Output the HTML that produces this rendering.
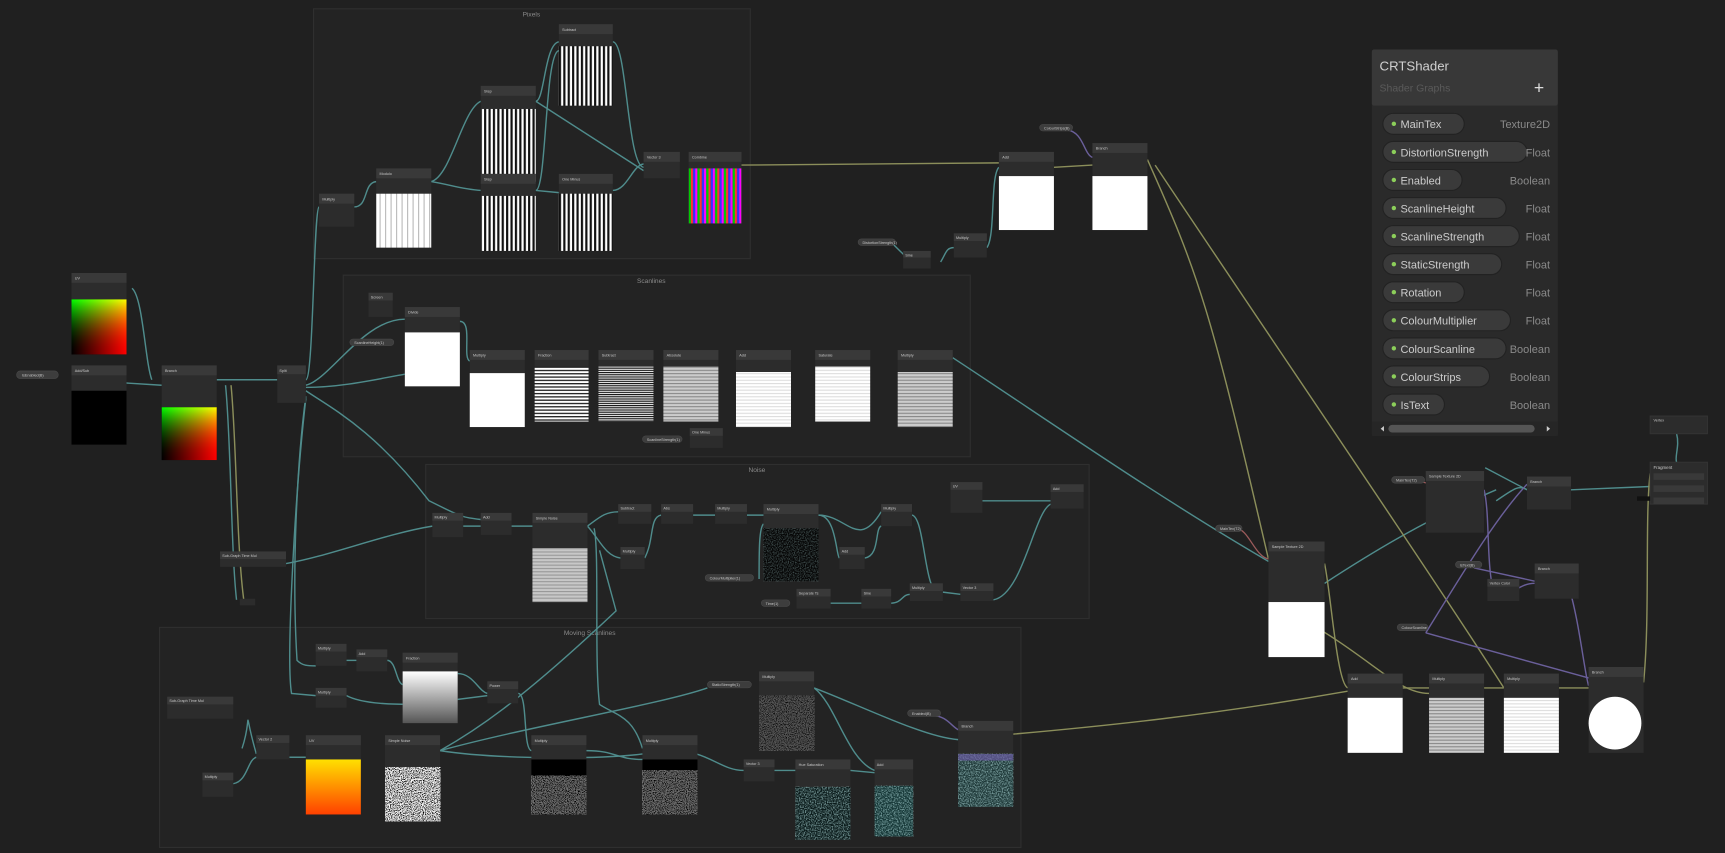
<!DOCTYPE html>
<html><head><meta charset="utf-8"><style>
html,body{margin:0;padding:0;background:#202020;overflow:hidden}
svg{display:block}
text{font-family:"Liberation Sans",sans-serif}
.h{fill:#393939}.b{fill:#2c2c2c}.t{fill:#c8c8c8;font-size:3.4px}
.e{fill:none;stroke:#4f8c8c;stroke-width:1.3}
.y{fill:none;stroke:#8b8e5a;stroke-width:1.3}
.p{fill:none;stroke:#6a5f9a;stroke-width:1.3}
.r{fill:none;stroke:#9a5a5a;stroke-width:1.2}
.pl{fill:#3d3d3d;stroke:#4a4a4a;stroke-width:.5}
.g{fill:#232323;stroke:#2f2f2f;stroke-width:1}
.gt{fill:#8a8a8a;font-size:6px}
</style></head><body>
<svg width="1725" height="853" viewBox="0 0 1568 775" preserveAspectRatio="none" xmlns="http://www.w3.org/2000/svg">
<defs>
<pattern id="vs" width="4" height="4" patternUnits="userSpaceOnUse"><rect width="4" height="4" fill="#fff"/><rect width="2" height="4" fill="#111"/></pattern>
<pattern id="vs2" width="5" height="4" patternUnits="userSpaceOnUse"><rect width="5" height="4" fill="#fff"/><rect width="1" height="4" fill="#bbb"/></pattern>
<pattern id="rb" width="8" height="4" patternUnits="userSpaceOnUse"><rect width="2" height="4" fill="#f0f"/><rect x="2" width="2" height="4" fill="#0c0"/><rect x="4" width="2" height="4" fill="#f33"/><rect x="6" width="2" height="4" fill="#33f"/></pattern>
<pattern id="hs" width="4" height="3" patternUnits="userSpaceOnUse"><rect width="4" height="3" fill="#fff"/><rect width="4" height="1.2" fill="#222"/></pattern>
<pattern id="hs2" width="4" height="2" patternUnits="userSpaceOnUse"><rect width="4" height="2" fill="#eee"/><rect width="4" height="1" fill="#111"/></pattern>
<pattern id="hs3" width="4" height="3" patternUnits="userSpaceOnUse"><rect width="4" height="3" fill="#fff"/><rect width="4" height="1" fill="#ddd"/></pattern>
<pattern id="hs4" width="4" height="3" patternUnits="userSpaceOnUse"><rect width="4" height="3" fill="#ccc"/><rect width="4" height="1" fill="#888"/></pattern>
<linearGradient id="gx" x1="0" y1="0" x2="1" y2="0"><stop offset="0" stop-color="#000"/><stop offset="1" stop-color="#f00"/></linearGradient>
<linearGradient id="gy" x1="0" y1="1" x2="0" y2="0"><stop offset="0" stop-color="#000" stop-opacity="0"/><stop offset="1" stop-color="#0f0"/></linearGradient>
<linearGradient id="yo" x1="0" y1="0" x2="0" y2="1"><stop offset="0" stop-color="#ffe000"/><stop offset="1" stop-color="#ff4000"/></linearGradient>
<linearGradient id="wg" x1="0" y1="0" x2="0" y2="1"><stop offset="0" stop-color="#fff"/><stop offset="1" stop-color="#555"/></linearGradient>
<filter id="nz" x="0" y="0" width="1" height="1"><feTurbulence type="fractalNoise" baseFrequency="0.9" numOctaves="1" seed="3"/><feColorMatrix type="matrix" values="0 0 0 0 .5  0 0 0 0 .8  0 0 0 0 .8  0 0 0 3 -1.2"/></filter>
<filter id="nzw" x="0" y="0" width="1" height="1"><feTurbulence type="fractalNoise" baseFrequency="1.2" seed="5"/><feColorMatrix type="matrix" values="4 0 0 0 -1.5  4 0 0 0 -1.5  4 0 0 0 -1.5  0 0 0 0 1"/></filter>
</defs>
<rect width="1568" height="775" fill="#202020"/>

<rect class="g" x="285" y="8" width="397" height="227"/><text class="gt" x="483" y="15" text-anchor="middle">Pixels</text>
<rect class="g" x="312" y="250" width="570" height="165"/><text class="gt" x="592" y="257" text-anchor="middle">Scanlines</text>
<rect class="g" x="387" y="422" width="603" height="140"/><text class="gt" x="688" y="429" text-anchor="middle">Noise</text>
<rect class="g" x="145" y="570" width="783" height="200"/><text class="gt" x="536" y="577" text-anchor="middle">Moving Scanlines</text>

<path class="e" d="M120 262 C130 270,132 330,138 345"/>
<path class="e" d="M115 348 L147 350"/>
<path class="e" d="M197 345 L252 345"/>
<path class="e" d="M278 345 C285 345,285 190,290 188"/>
<path class="e" d="M322 188 C335 188,330 166,342 165"/>
<path class="e" d="M392 165 C410 160,420 100,437 92"/>
<path class="e" d="M392 165 C410 168,420 172,437 173"/>
<path class="e" d="M487 92 C495 92,495 40,508 38"/>
<path class="e" d="M487 92 L585 155"/>
<path class="e" d="M487 173 C497 173,495 48,508 46"/>
<path class="e" d="M487 173 L508 175"/>
<path class="e" d="M557 38 C570 38,570 150,585 152"/>
<path class="e" d="M557 173 C570 173,575 150,585 149"/>
<path class="e" d="M278 350 C300 345,330 290,368 290"/>
<path class="e" d="M278 352 C310 352,340 345,368 340"/>
<path class="e" d="M418 292 C430 292,420 325,427 328"/>
<path class="e" d="M278 355 C300 370,340 390,390 455 C420 470,420 470,437 472"/>
<path class="e" d="M260 512 C300 505,350 485,393 478"/>
<path class="e" d="M421 478 L437 478"/>
<path class="e" d="M465 478 L484 478"/>
<path class="e" d="M534 478 C545 470,550 465,562 465"/>
<path class="e" d="M534 478 C545 490,550 505,564 507"/>
<path class="e" d="M586 507 C595 490,590 470,601 468"/>
<path class="e" d="M630 468 L650 468"/>
<path class="e" d="M679 468 L694 468"/>
<path class="e" d="M744 468 C770 468,780 500,801 465"/>
<path class="e" d="M744 468 C760 468,760 505,763 507"/>
<path class="e" d="M690 526 C690 500,690 480,694 476"/>
<path class="e" d="M786 507 C800 505,795 480,801 478"/>
<path class="e" d="M829 468 C840 470,840 530,851 538"/>
<path class="e" d="M857 538 L873 540"/>
<path class="e" d="M903 545 C930 540,940 465,955 458"/>
<path class="e" d="M893 455 L955 455"/>
<path class="e" d="M755 548 L783 548"/>
<path class="e" d="M810 548 C820 548,820 540,827 540"/>
<path class="e" d="M540 480 C545 500,540 600,545 640 C560 650,575 650,584 680"/>
<path class="e" d="M278 360 C270 420,265 520,270 600 C275 605,280 605,287 605"/>
<path class="e" d="M278 362 C268 450,260 600,265 630 L287 632"/>
<path class="e" d="M315 600 L324 600"/>
<path class="e" d="M352 600 C360 600,360 620,366 622"/>
<path class="e" d="M315 632 C330 640,360 640,380 640 L443 632"/>
<path class="e" d="M416 612 C430 612,435 628,443 630"/>
<path class="e" d="M471 630 C480 630,475 680,483 682"/>
<path class="e" d="M400 682 C430 665,470 640,560 555 L545 500"/>
<path class="e" d="M400 682 C480 660,600 640,643 625"/>
<path class="e" d="M400 682 C450 690,550 690,584 685"/>
<path class="e" d="M533 682 C560 682,560 690,584 690"/>
<path class="e" d="M633 685 C650 690,660 700,676 700"/>
<path class="e" d="M740 625 C780 640,840 670,871 672"/>
<path class="e" d="M740 625 C760 640,770 690,795 700"/>
<path class="e" d="M704 700 L723 700"/>
<path class="e" d="M773 700 L795 702"/>
<path class="e" d="M220 680 C230 650,220 640,233 685"/>
<path class="e" d="M212 712 C225 710,225 690,233 688"/>
<path class="e" d="M263 688 L278 688"/>
<path class="e" d="M205 350 C210 400,210 500,215 545"/>
<path class="e" d="M1204 530 C1250 500,1300 470,1360 445"/>
<path class="e" d="M1428 445 L1500 442"/>
<path class="e" d="M812 222 C820 230,825 235,830 238"/>
<path class="e" d="M855 238 C860 230,860 225,867 225"/>
<path class="e" d="M897 225 C905 215,900 160,908 152"/>
<path class="e" d="M866 325 C950 380,1050 450,1153 510"/>
<path class="e" d="M1350 425 L1388 445"/>
<path class="e" d="M1360 455 C1375 445,1380 440,1388 445"/>
<path class="y" d="M674 150 L908 148"/>
<path class="y" d="M958 152 L993 150"/>
<path class="y" d="M1043 145 C1090 250,1100 280,1153 508"/>
<path class="y" d="M1050 150 C1150 300,1300 520,1367 625"/>
<path class="y" d="M921 667 C1000 660,1100 650,1225 628"/>
<path class="y" d="M1204 512 C1210 540,1215 620,1225 625"/>
<path class="y" d="M1275 625 L1299 625"/>
<path class="y" d="M1349 625 L1367 625"/>
<path class="y" d="M1417 625 L1444 625"/>
<path class="y" d="M1180 560 C1250 600,1270 630,1299 630"/>
<path class="y" d="M1494 620 C1500 560,1495 470,1500 430"/>
<path class="y" d="M210 350 C215 400,215 500,222 548"/>
<path class="p" d="M1296 575 C1330 520,1360 470,1388 440"/>
<path class="p" d="M1296 575 L1444 616"/>
<path class="p" d="M1340 516 L1395 528"/>
<path class="p" d="M1366 542 C1380 535,1385 530,1395 530"/>
<path class="p" d="M1425 530 C1435 560,1440 610,1444 623"/>
<path class="p" d="M1349 445 C1355 470,1350 520,1360 545"/>
<path class="p" d="M970 118 C985 120,985 140,993 143"/>
<path class="r" d="M1290 437 L1322 446"/>
<path class="r" d="M1123 480 C1135 480,1140 505,1153 508"/>
<path class="p" d="M847 650 C860 650,865 660,871 663"/>
<path class="e" d="M1524 394 C1527 405,1522 415,1524 420"/>

<rect class="pl" x="15" y="337" width="38" height="7" rx="3.5"/><text class="t" x="20" y="342">IsEnabled(B)</text>
<rect class="pl" x="318" y="308" width="40" height="6" rx="3"/><text class="t" x="322" y="312.5">ScanlineHeight(1)</text>
<rect class="pl" x="584" y="396" width="36" height="6" rx="3"/><text class="t" x="588" y="400.5">ScanlineStrength(1)</text>
<rect class="pl" x="641" y="522" width="44" height="6" rx="3"/><text class="t" x="645" y="526.5">ColourMultiplier(1)</text>
<rect class="pl" x="692" y="545" width="26" height="6" rx="3"/><text class="t" x="696" y="549.5">Time(1)</text>
<rect class="pl" x="643" y="619" width="40" height="6" rx="3"/><text class="t" x="647" y="623.5">StaticStrength(1)</text>
<rect class="pl" x="825" y="645" width="30" height="6" rx="3"/><text class="t" x="829" y="649.5">Enabled(B)</text>
<rect class="pl" x="945" y="113" width="30" height="6" rx="3"/><text class="t" x="949" y="117.5">ColourStrips(B)</text>
<rect class="pl" x="780" y="217" width="34" height="6" rx="3"/><text class="t" x="784" y="221.5">DistortionStrength(1)</text>
<rect class="pl" x="1265" y="433" width="30" height="6" rx="3"/><text class="t" x="1269" y="437.5">MainTex(T2)</text>
<rect class="pl" x="1105" y="477" width="24" height="6" rx="3"/><text class="t" x="1109" y="481.5">MainTex(T2)</text>
<rect class="pl" x="1323" y="510" width="24" height="6" rx="3"/><text class="t" x="1327" y="514.5">IsText(B)</text>
<rect class="pl" x="1270" y="567" width="28" height="6" rx="3"/><text class="t" x="1274" y="571.5">ColourScanline</text>

<rect class="b" x="290" y="176" width="32" height="30"/><rect class="h" x="290" y="176" width="32" height="9"/><text class="t" x="293" y="182">Multiply</text>
<rect class="b" x="342" y="153" width="50" height="72"/><rect class="h" x="342" y="153" width="50" height="9"/><text class="t" x="345" y="159">Modulo</text><rect x="342" y="176" width="50" height="49" fill="url(#vs2)"/>
<rect class="b" x="437" y="78" width="50" height="87"/><rect class="h" x="437" y="78" width="50" height="9"/><text class="t" x="440" y="84">Step</text><rect x="437" y="99" width="50" height="66" fill="url(#vs)"/>
<rect class="b" x="437" y="158" width="50" height="70"/><rect class="h" x="437" y="158" width="50" height="9"/><text class="t" x="440" y="164">Step</text><rect x="437" y="178" width="50" height="50" fill="url(#vs)"/>
<rect class="b" x="508" y="22" width="49" height="74"/><rect class="h" x="508" y="22" width="49" height="9"/><text class="t" x="511" y="28">Subtract</text><rect x="508" y="42" width="49" height="54" fill="url(#vs)"/>
<rect class="b" x="508" y="158" width="49" height="70"/><rect class="h" x="508" y="158" width="49" height="9"/><text class="t" x="511" y="164">One Minus</text><rect x="508" y="176" width="49" height="52" fill="url(#vs)"/>
<rect class="b" x="585" y="138" width="33" height="24"/><rect class="h" x="585" y="138" width="33" height="9"/><text class="t" x="588" y="144">Vector 3</text>
<rect class="b" x="626" y="138" width="48" height="65"/><rect class="h" x="626" y="138" width="48" height="9"/><text class="t" x="629" y="144">Combine</text><rect x="626" y="153" width="48" height="50" fill="url(#rb)"/>

<rect class="b" x="65" y="248" width="50" height="74"/><rect class="h" x="65" y="248" width="50" height="9"/><text class="t" x="68" y="254">UV</text>
<rect x="65" y="272" width="50" height="50" fill="#000"/><rect x="65" y="272" width="50" height="50" fill="url(#gx)"/><rect x="65" y="272" width="50" height="50" fill="url(#gy)" style="mix-blend-mode:screen"/>
<rect class="b" x="65" y="332" width="50" height="72"/><rect class="h" x="65" y="332" width="50" height="9"/><text class="t" x="68" y="338">Add/Sub</text><rect x="65" y="355" width="50" height="49" fill="#000"/>
<rect class="b" x="147" y="332" width="50" height="86"/><rect class="h" x="147" y="332" width="50" height="9"/><text class="t" x="150" y="338">Branch</text>
<rect x="147" y="370" width="50" height="48" fill="#000"/><rect x="147" y="370" width="50" height="48" fill="url(#gx)"/><rect x="147" y="370" width="50" height="48" fill="url(#gy)" style="mix-blend-mode:screen"/>
<rect class="b" x="252" y="332" width="26" height="34"/><rect class="h" x="252" y="332" width="26" height="8"/><text class="t" x="254" y="338">Split</text>
<rect class="b" x="200" y="501" width="60" height="14"/><rect class="h" x="200" y="501" width="60" height="7"/><text class="t" x="202" y="506">Sub-Graph Time Mul</text>
<rect class="b" x="218" y="544" width="14" height="6"/>

<rect class="b" x="335" y="266" width="22" height="22"/><rect class="h" x="335" y="266" width="22" height="7"/><text class="t" x="337" y="271">Screen</text>
<rect class="b" x="368" y="279" width="50" height="72"/><rect class="h" x="368" y="279" width="50" height="9"/><text class="t" x="371" y="285">Divide</text><rect x="368" y="302" width="50" height="49" fill="#fff"/>
<rect class="b" x="427" y="318" width="50" height="70"/><rect class="h" x="427" y="318" width="50" height="9"/><text class="t" x="430" y="324">Multiply</text><rect x="427" y="339" width="50" height="49" fill="#fff"/>
<rect class="b" x="486" y="318" width="49" height="65"/><rect class="h" x="486" y="318" width="49" height="9"/><text class="t" x="489" y="324">Fraction</text><rect x="486" y="333" width="49" height="50" fill="url(#hs)"/>
<rect class="b" x="544" y="318" width="50" height="65"/><rect class="h" x="544" y="318" width="50" height="9"/><text class="t" x="547" y="324">Subtract</text><rect x="544" y="333" width="50" height="50" fill="url(#hs2)"/>
<rect class="b" x="603" y="318" width="50" height="65"/><rect class="h" x="603" y="318" width="50" height="9"/><text class="t" x="606" y="324">Absolute</text><rect x="603" y="333" width="50" height="50" fill="url(#hs4)"/>
<rect class="b" x="669" y="318" width="50" height="70"/><rect class="h" x="669" y="318" width="50" height="9"/><text class="t" x="672" y="324">Add</text><rect x="669" y="338" width="50" height="50" fill="url(#hs3)"/>
<rect class="b" x="741" y="318" width="50" height="65"/><rect class="h" x="741" y="318" width="50" height="9"/><text class="t" x="744" y="324">Saturate</text><rect x="741" y="333" width="50" height="50" fill="url(#hs3)"/>
<rect class="b" x="816" y="318" width="50" height="70"/><rect class="h" x="816" y="318" width="50" height="9"/><text class="t" x="819" y="324">Multiply</text><rect x="816" y="338" width="50" height="50" fill="url(#hs4)"/>
<rect class="b" x="627" y="389" width="30" height="18"/><rect class="h" x="627" y="389" width="30" height="7"/><text class="t" x="629" y="394">One Minus</text>

<rect class="b" x="393" y="466" width="28" height="22"/><rect class="h" x="393" y="466" width="28" height="7"/><text class="t" x="395" y="471">Multiply</text>
<rect class="b" x="437" y="466" width="28" height="20"/><rect class="h" x="437" y="466" width="28" height="7"/><text class="t" x="439" y="471">Add</text>
<rect class="b" x="484" y="466" width="50" height="81"/><rect class="h" x="484" y="466" width="50" height="9"/><text class="t" x="487" y="472">Simple Noise</text>
<rect x="484" y="498" width="50" height="49" fill="#bbb"/><rect x="484" y="498" width="50" height="49" fill="url(#hs4)" opacity=".7"/>
<rect class="b" x="562" y="458" width="30" height="18"/><rect class="h" x="562" y="458" width="30" height="7"/><text class="t" x="564" y="463">Subtract</text>
<rect class="b" x="601" y="458" width="29" height="18"/><rect class="h" x="601" y="458" width="29" height="7"/><text class="t" x="603" y="463">Abs</text>
<rect class="b" x="650" y="458" width="29" height="18"/><rect class="h" x="650" y="458" width="29" height="7"/><text class="t" x="652" y="463">Multiply</text>
<rect class="b" x="564" y="497" width="22" height="20"/><rect class="h" x="564" y="497" width="22" height="7"/><text class="t" x="566" y="502">Multiply</text>
<rect class="b" x="694" y="458" width="50" height="70"/><rect class="h" x="694" y="458" width="50" height="9"/><text class="t" x="697" y="464">Multiply</text><rect x="694" y="480" width="50" height="48" fill="#050505"/><rect x="694" y="480" width="50" height="48" filter="url(#nz)" opacity=".3"/>
<rect class="b" x="763" y="497" width="23" height="20"/><rect class="h" x="763" y="497" width="23" height="7"/><text class="t" x="765" y="502">Add</text>
<rect class="b" x="801" y="458" width="28" height="20"/><rect class="h" x="801" y="458" width="28" height="7"/><text class="t" x="803" y="463">Multiply</text>
<rect class="b" x="827" y="530" width="30" height="16"/><rect class="h" x="827" y="530" width="30" height="7"/><text class="t" x="829" y="535">Multiply</text>
<rect class="b" x="873" y="530" width="30" height="16"/><rect class="h" x="873" y="530" width="30" height="7"/><text class="t" x="875" y="535">Vector 3</text>
<rect class="b" x="864" y="438" width="29" height="28"/><rect class="h" x="864" y="438" width="29" height="7"/><text class="t" x="866" y="443">UV</text>
<rect class="b" x="955" y="440" width="30" height="22"/><rect class="h" x="955" y="440" width="30" height="7"/><text class="t" x="957" y="445">Add</text>
<rect class="b" x="724" y="535" width="31" height="18"/><rect class="h" x="724" y="535" width="31" height="7"/><text class="t" x="726" y="540">Separate Ts</text>
<rect class="b" x="783" y="535" width="27" height="18"/><rect class="h" x="783" y="535" width="27" height="7"/><text class="t" x="785" y="540">Sine</text>

<rect class="b" x="152" y="633" width="60" height="20"/><rect class="h" x="152" y="633" width="60" height="7"/><text class="t" x="154" y="638">Sub-Graph Time Mul</text>
<rect class="b" x="233" y="668" width="30" height="22"/><rect class="h" x="233" y="668" width="30" height="7"/><text class="t" x="235" y="673">Vector 2</text>
<rect class="b" x="184" y="702" width="28" height="22"/><rect class="h" x="184" y="702" width="28" height="7"/><text class="t" x="186" y="707">Multiply</text>
<rect class="b" x="287" y="585" width="28" height="20"/><rect class="h" x="287" y="585" width="28" height="7"/><text class="t" x="289" y="590">Multiply</text>
<rect class="b" x="324" y="590" width="28" height="20"/><rect class="h" x="324" y="590" width="28" height="7"/><text class="t" x="326" y="595">Add</text>
<rect class="b" x="287" y="625" width="28" height="18"/><rect class="h" x="287" y="625" width="28" height="7"/><text class="t" x="289" y="630">Multiply</text>
<rect class="b" x="366" y="593" width="50" height="64"/><rect class="h" x="366" y="593" width="50" height="9"/><text class="t" x="369" y="599">Fraction</text><rect x="366" y="610" width="50" height="47" fill="url(#wg)"/>
<rect class="b" x="278" y="668" width="50" height="72"/><rect class="h" x="278" y="668" width="50" height="9"/><text class="t" x="281" y="674">UV</text><rect x="278" y="690" width="50" height="50" fill="url(#yo)"/>
<rect class="b" x="350" y="668" width="50" height="78"/><rect class="h" x="350" y="668" width="50" height="9"/><text class="t" x="353" y="674">Simple Noise</text><rect x="350" y="697" width="50" height="49" fill="#fff" filter="url(#nzw)"/>
<rect class="b" x="443" y="619" width="28" height="20"/><rect class="h" x="443" y="619" width="28" height="7"/><text class="t" x="445" y="624">Power</text>
<rect class="b" x="483" y="668" width="50" height="72"/><rect class="h" x="483" y="668" width="50" height="9"/><text class="t" x="486" y="674">Multiply</text><rect x="483" y="690" width="50" height="50" fill="#000"/><rect x="483" y="705" width="50" height="35" filter="url(#nzw)" opacity=".45"/>
<rect class="b" x="584" y="668" width="50" height="72"/><rect class="h" x="584" y="668" width="50" height="9"/><text class="t" x="587" y="674">Multiply</text><rect x="584" y="690" width="50" height="50" fill="#000"/><rect x="584" y="700" width="50" height="40" filter="url(#nzw)" opacity=".45"/>
<rect class="b" x="690" y="610" width="50" height="72"/><rect class="h" x="690" y="610" width="50" height="9"/><text class="t" x="693" y="616">Multiply</text><rect x="690" y="632" width="50" height="50" fill="#111"/><rect x="690" y="632" width="50" height="50" filter="url(#nzw)" opacity=".3"/>
<rect class="b" x="676" y="690" width="28" height="20"/><rect class="h" x="676" y="690" width="28" height="7"/><text class="t" x="678" y="695">Vector 3</text>
<rect class="b" x="723" y="690" width="50" height="73"/><rect class="h" x="723" y="690" width="50" height="9"/><text class="t" x="726" y="696">Hue Saturation</text><rect x="723" y="715" width="50" height="48" fill="#0a1a1a"/><rect x="723" y="715" width="50" height="48" filter="url(#nz)" opacity=".6"/>
<rect class="b" x="795" y="690" width="35" height="70"/><rect class="h" x="795" y="690" width="35" height="9"/><text class="t" x="797" y="696">Add</text><rect x="795" y="714" width="35" height="46" fill="#143535"/><rect x="795" y="714" width="35" height="46" filter="url(#nz)" opacity=".6"/>
<rect class="b" x="871" y="655" width="50" height="78"/><rect class="h" x="871" y="655" width="50" height="9"/><text class="t" x="874" y="661">Branch</text><rect x="871" y="685" width="50" height="48" fill="#1e3838"/><rect x="871" y="685" width="50" height="48" filter="url(#nz)" opacity=".6"/><rect x="871" y="685" width="50" height="6" fill="#6a5aa0" opacity=".7"/>

<rect class="b" x="908" y="138" width="50" height="71"/><rect class="h" x="908" y="138" width="50" height="9"/><text class="t" x="911" y="144">Add</text><rect x="908" y="160" width="50" height="49" fill="#fff"/>
<rect class="b" x="993" y="130" width="50" height="79"/><rect class="h" x="993" y="130" width="50" height="9"/><text class="t" x="996" y="136">Branch</text><rect x="993" y="160" width="50" height="49" fill="#fff"/>
<rect class="b" x="821" y="228" width="25" height="16"/><rect class="h" x="821" y="228" width="25" height="6"/><text class="t" x="823" y="233">Sine</text>
<rect class="b" x="867" y="212" width="30" height="22"/><rect class="h" x="867" y="212" width="30" height="7"/><text class="t" x="869" y="217">Multiply</text>

<rect class="b" x="1296" y="428" width="53" height="56"/><rect class="h" x="1296" y="428" width="53" height="9"/><text class="t" x="1299" y="434">Sample Texture 2D</text>
<rect class="b" x="1388" y="433" width="40" height="30"/><rect class="h" x="1388" y="433" width="40" height="9"/><text class="t" x="1391" y="439">Branch</text>
<rect class="b" x="1500" y="420" width="52" height="38" stroke="#333"/><text class="t" x="1503" y="426" style="font-size:4px">Fragment</text>
<rect class="h" x="1503" y="430" width="46" height="6"/><rect class="h" x="1503" y="441" width="46" height="6"/><rect class="h" x="1503" y="452" width="46" height="6"/>
<rect x="1488" y="451" width="12" height="4" fill="#111"/>
<rect class="b" x="1500" y="378" width="52" height="16" stroke="#333"/><text class="t" x="1503" y="383">Vertex</text>
<rect class="b" x="1153" y="492" width="51" height="105"/><rect class="h" x="1153" y="492" width="51" height="9"/><text class="t" x="1156" y="498">Sample Texture 2D</text><rect x="1153" y="547" width="51" height="50" fill="#fff"/>
<rect class="b" x="1352" y="526" width="29" height="20"/><rect class="h" x="1352" y="526" width="29" height="7"/><text class="t" x="1354" y="531">Vertex Color</text>
<rect class="b" x="1395" y="512" width="40" height="32"/><rect class="h" x="1395" y="512" width="40" height="9"/><text class="t" x="1398" y="518">Branch</text>
<rect class="b" x="1225" y="612" width="50" height="72"/><rect class="h" x="1225" y="612" width="50" height="9"/><text class="t" x="1228" y="618">Add</text><rect x="1225" y="634" width="50" height="50" fill="#fff"/>
<rect class="b" x="1299" y="612" width="50" height="72"/><rect class="h" x="1299" y="612" width="50" height="9"/><text class="t" x="1302" y="618">Multiply</text><rect x="1299" y="634" width="50" height="50" fill="url(#hs4)"/>
<rect class="b" x="1367" y="612" width="50" height="72"/><rect class="h" x="1367" y="612" width="50" height="9"/><text class="t" x="1370" y="618">Multiply</text><rect x="1367" y="634" width="50" height="50" fill="url(#hs3)"/>
<rect class="b" x="1444" y="606" width="50" height="78"/><rect class="h" x="1444" y="606" width="50" height="9"/><text class="t" x="1447" y="612">Branch</text><circle cx="1468" cy="657" r="24" fill="#fff"/>

<rect x="1247" y="45" width="169" height="351" rx="2" fill="#2a2a2a"/>
<rect x="1247" y="45" width="169" height="51" rx="2" fill="#383838"/>
<text x="1254" y="64" fill="#d0d0d0" style="font-size:12px">CRTShader</text>
<text x="1254" y="83" fill="#5a5a5a" style="font-size:9.5px">Shader Graphs</text>
<text x="1399" y="85" fill="#ddd" text-anchor="middle" style="font-size:16px">+</text>
<g style="font-size:10px">
<rect x="1257" y="103" width="74" height="19" rx="9.5" fill="#3a3a3a" stroke="#222"/><circle cx="1267" cy="112.5" r="2" fill="#8ccf5a"/><text x="1273" y="116.5" fill="#ccc">MainTex</text><text x="1409" y="116.5" fill="#8a8a8a" text-anchor="end">Texture2D</text>
<rect x="1257" y="128.5" width="131" height="19" rx="9.5" fill="#3a3a3a" stroke="#222"/><circle cx="1267" cy="138" r="2" fill="#8ccf5a"/><text x="1273" y="142" fill="#ccc">DistortionStrength</text><text x="1409" y="142" fill="#8a8a8a" text-anchor="end">Float</text>
<rect x="1257" y="154" width="72" height="19" rx="9.5" fill="#3a3a3a" stroke="#222"/><circle cx="1267" cy="163.5" r="2" fill="#8ccf5a"/><text x="1273" y="167.5" fill="#ccc">Enabled</text><text x="1409" y="167.5" fill="#8a8a8a" text-anchor="end">Boolean</text>
<rect x="1257" y="179.5" width="112" height="19" rx="9.5" fill="#3a3a3a" stroke="#222"/><circle cx="1267" cy="189" r="2" fill="#8ccf5a"/><text x="1273" y="193" fill="#ccc">ScanlineHeight</text><text x="1409" y="193" fill="#8a8a8a" text-anchor="end">Float</text>
<rect x="1257" y="205" width="124" height="19" rx="9.5" fill="#3a3a3a" stroke="#222"/><circle cx="1267" cy="214.5" r="2" fill="#8ccf5a"/><text x="1273" y="218.5" fill="#ccc">ScanlineStrength</text><text x="1409" y="218.5" fill="#8a8a8a" text-anchor="end">Float</text>
<rect x="1257" y="230.5" width="108" height="19" rx="9.5" fill="#3a3a3a" stroke="#222"/><circle cx="1267" cy="240" r="2" fill="#8ccf5a"/><text x="1273" y="244" fill="#ccc">StaticStrength</text><text x="1409" y="244" fill="#8a8a8a" text-anchor="end">Float</text>
<rect x="1257" y="256" width="74" height="19" rx="9.5" fill="#3a3a3a" stroke="#222"/><circle cx="1267" cy="265.5" r="2" fill="#8ccf5a"/><text x="1273" y="269.5" fill="#ccc">Rotation</text><text x="1409" y="269.5" fill="#8a8a8a" text-anchor="end">Float</text>
<rect x="1257" y="281.5" width="116" height="19" rx="9.5" fill="#3a3a3a" stroke="#222"/><circle cx="1267" cy="291" r="2" fill="#8ccf5a"/><text x="1273" y="295" fill="#ccc">ColourMultiplier</text><text x="1409" y="295" fill="#8a8a8a" text-anchor="end">Float</text>
<rect x="1257" y="307" width="112" height="19" rx="9.5" fill="#3a3a3a" stroke="#222"/><circle cx="1267" cy="316.5" r="2" fill="#8ccf5a"/><text x="1273" y="320.5" fill="#ccc">ColourScanline</text><text x="1409" y="320.5" fill="#8a8a8a" text-anchor="end">Boolean</text>
<rect x="1257" y="332.5" width="97" height="19" rx="9.5" fill="#3a3a3a" stroke="#222"/><circle cx="1267" cy="342" r="2" fill="#8ccf5a"/><text x="1273" y="346" fill="#ccc">ColourStrips</text><text x="1409" y="346" fill="#8a8a8a" text-anchor="end">Boolean</text>
<rect x="1257" y="358" width="56" height="19" rx="9.5" fill="#3a3a3a" stroke="#222"/><circle cx="1267" cy="367.5" r="2" fill="#8ccf5a"/><text x="1273" y="371.5" fill="#ccc">IsText</text><text x="1409" y="371.5" fill="#8a8a8a" text-anchor="end">Boolean</text>
</g>
<rect x="1247" y="383" width="169" height="13" fill="#262626"/>
<rect x="1262" y="386" width="133" height="7" rx="3.5" fill="#555"/>
<path d="M1255 389.5 l3 -2.5 v5z M1409 389.5 l-3 -2.5 v5z" fill="#ccc"/>
</svg>
</body></html>
